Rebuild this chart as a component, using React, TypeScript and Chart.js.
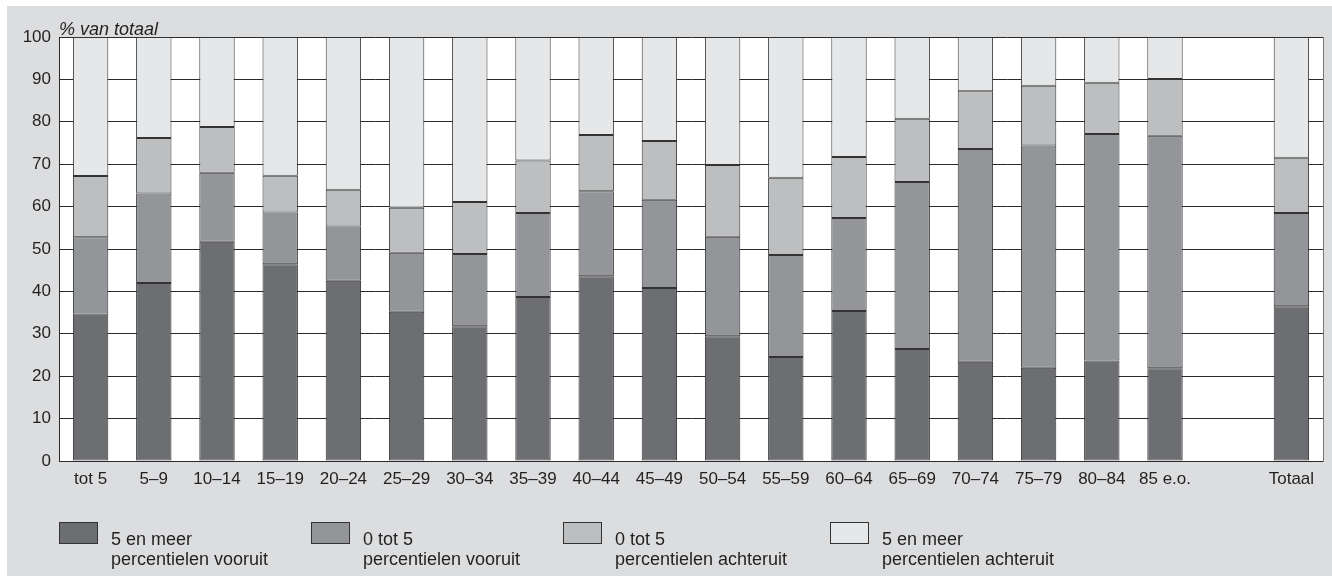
import React, { useEffect, useRef } from "react";
import { Chart, registerables } from "chart.js";

Chart.register(...registerables);

const categories = [
  "tot 5", "5–9", "10–14", "15–19", "20–24", "25–29", "30–34", "35–39", "40–44",
  "45–49", "50–54", "55–59", "60–64", "65–69", "70–74", "75–79", "80–84", "85 e.o.", "", "Totaal",
];

const vooruit5 = [34.8, 42.0, 51.7, 46.4, 42.5, 35.2, 31.8, 38.7, 43.6, 40.8, 29.4, 24.5, 35.4, 26.4, 23.4, 22.0, 23.7, 21.9, null, 36.5];
const vooruit0 = [18.0, 21.1, 16.3, 12.2, 12.8, 13.9, 17.0, 19.8, 20.0, 20.8, 23.5, 24.1, 21.9, 39.4, 50.2, 52.4, 53.4, 54.8, null, 22.0];
const achteruit0 = [14.4, 13.1, 10.8, 8.7, 8.7, 10.6, 12.3, 12.4, 13.3, 13.9, 16.9, 18.2, 14.4, 14.9, 13.6, 14.1, 12.1, 13.4, null, 13.0];
const achteruit5 = [32.8, 23.8, 21.2, 32.7, 36.0, 40.3, 38.9, 29.1, 23.1, 24.5, 30.2, 33.2, 28.3, 19.3, 12.8, 11.5, 10.8, 9.9, null, 28.5];

const seriesLabels = [
  ["5 en meer", "percentielen vooruit"],
  ["0 tot 5", "percentielen vooruit"],
  ["0 tot 5", "percentielen achteruit"],
  ["5 en meer", "percentielen achteruit"],
];
const seriesColors = ["#6d6e71", "#939598", "#bcbec0", "#e6e7e8"];

const yTicks = [0, 10, 20, 30, 40, 50, 60, 70, 80, 90, 100];
const yTitle = "% van totaal";

const FONT = '"Liberation Sans", Arial, Helvetica, sans-serif';
const TEXT = "#231f20";
const LINE = "#2a2a2a";

export default function App() {
  const ref = useRef<HTMLCanvasElement>(null);

  useEffect(() => {
    document.body.style.margin = "0";
    const canvas = ref.current;
    if (!canvas) return;

    const bgPlugin = {
      id: "plotBg",
      beforeDraw(chart: any) {
        const { ctx, chartArea } = chart;
        ctx.save();
        ctx.fillStyle = "#ffffff";
        ctx.fillRect(chartArea.left, chartArea.top, chartArea.right - chartArea.left, chartArea.bottom - chartArea.top);
        ctx.restore();
      },
    };

    const textPlugin = {
      id: "extraText",
      afterDraw(chart: any) {
        const { ctx, chartArea } = chart;
        ctx.save();
        ctx.fillStyle = TEXT;
        ctx.font = `italic 18px ${FONT}`;
        ctx.textAlign = "left";
        ctx.textBaseline = "alphabetic";
        ctx.fillText(yTitle, chartArea.left, chartArea.top - 2);

        const offsets = [0, 252, 504, 771];
        chart.data.datasets.forEach((ds: any, i: number) => {
          const x = chartArea.left + offsets[i];
          const y = chartArea.bottom + 61;
          ctx.fillStyle = ds.backgroundColor;
          ctx.fillRect(x, y, 39, 22);
          ctx.strokeStyle = "#333";
          ctx.lineWidth = 1;
          ctx.strokeRect(x + 0.5, y + 0.5, 38, 21);
          ctx.fillStyle = TEXT;
          ctx.font = `18px ${FONT}`;
          const lines = seriesLabels[i];
          ctx.fillText(lines[0], x + 52, chartArea.bottom + 84);
          ctx.fillText(lines[1], x + 52, chartArea.bottom + 104);
        });
        ctx.restore();
      },
    };

    const mk = (label: string[], data: (number | null)[], color: string) => ({
      label: label.join(" "),
      data,
      backgroundColor: color,
      borderColor: "#333",
      borderWidth: 1,
      borderSkipped: false,
      categoryPercentage: 1,
      barPercentage: 0.56,
    });

    const chart = new Chart(canvas, {
      type: "bar",
      data: {
        labels: categories,
        datasets: [
          mk(seriesLabels[0], vooruit5, seriesColors[0]),
          mk(seriesLabels[1], vooruit0, seriesColors[1]),
          mk(seriesLabels[2], achteruit0, seriesColors[2]),
          mk(seriesLabels[3], achteruit5, seriesColors[3]),
        ] as any,
      },
      options: {
        animation: false,
        responsive: true,
        maintainAspectRatio: false,
        layout: { padding: { top: 31, left: 0, right: 0, bottom: 0 } },
        plugins: {
          legend: { display: false },
          tooltip: { enabled: false },
          title: { display: false },
        },
        scales: {
          x: {
            stacked: true,
            offset: true,
            grid: { display: false, drawTicks: false },
            border: { display: true, color: LINE, width: 1 },
            ticks: {
              color: TEXT,
              font: { family: FONT, size: 17 },
              padding: 8,
              maxRotation: 0,
              autoSkip: false,
            },
            afterFit(scale: any) {
              scale.height = 115;
            },
          },
          y: {
            stacked: true,
            min: 0,
            max: 100,
            afterBuildTicks(scale: any) {
              scale.ticks = yTicks.map((v) => ({ value: v }));
            },
            grid: { color: LINE, lineWidth: 1, drawTicks: false },
            border: { display: true, color: LINE, width: 1 },
            ticks: {
              color: TEXT,
              font: { family: FONT, size: 17 },
              padding: 8,
            },
            afterFit(scale: any) {
              scale.width = 52;
            },
          },
          y2: {
            position: "right",
            min: 0,
            max: 100,
            grid: { display: false, drawTicks: false },
            border: { display: true, color: "#777", width: 1 },
            ticks: { display: false },
            afterFit(scale: any) {
              scale.width = 9;
            },
          },
        } as any,
      },
      plugins: [bgPlugin, textPlugin],
    });

    return () => chart.destroy();
  }, []);

  return (
    <div style={{ position: "relative", width: 1332, height: 577, background: "#ffffff" }}>
      <div style={{ position: "absolute", left: 7, top: 6, width: 1325, height: 570, background: "#dcdddf" }}>
        <canvas ref={ref} />
      </div>
    </div>
  );
}
